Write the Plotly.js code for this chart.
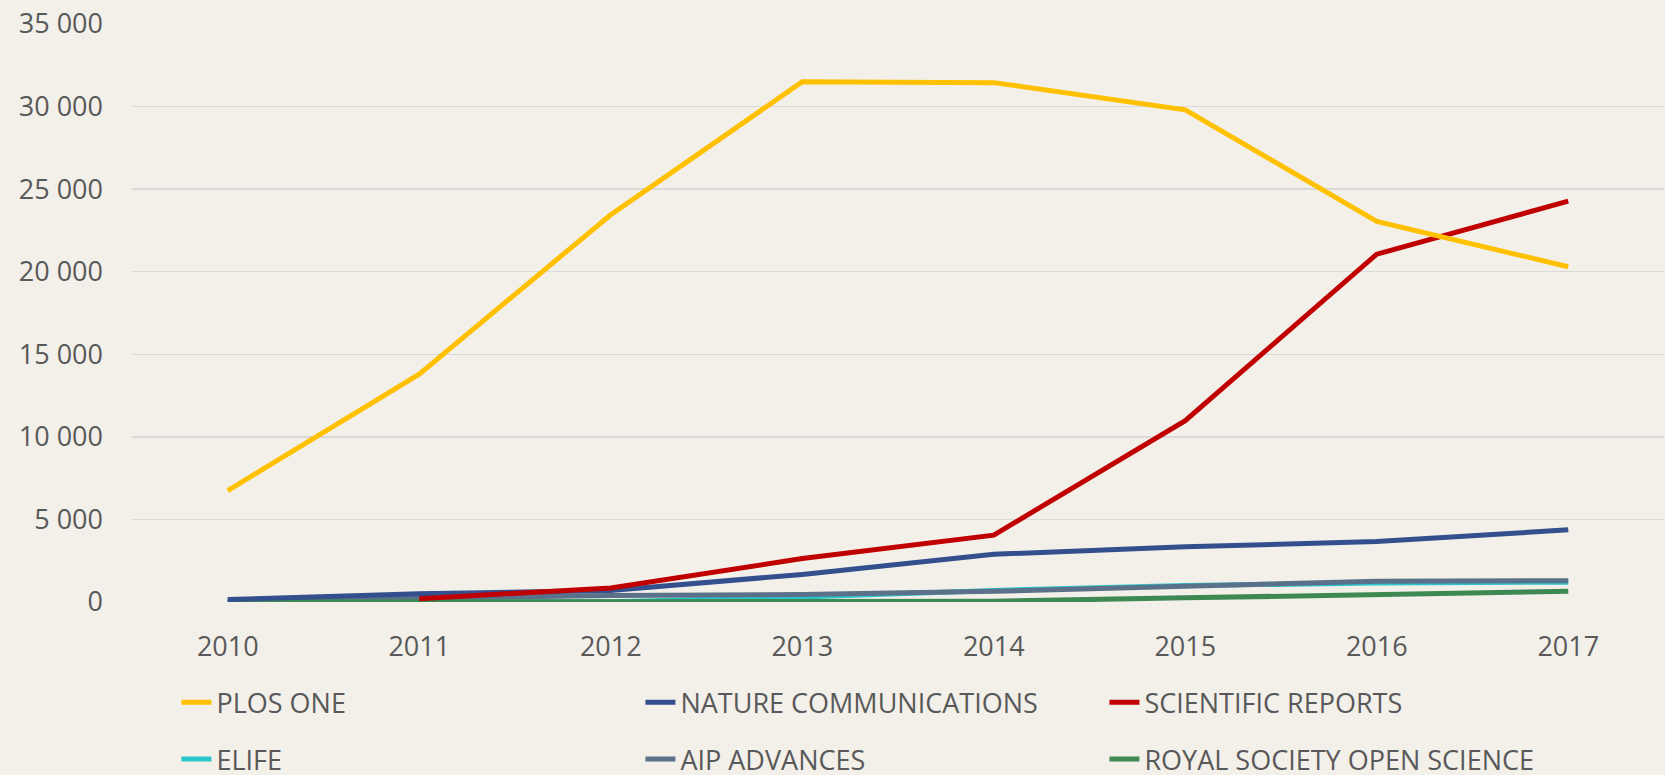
<!DOCTYPE html>
<html>
<head>
<meta charset="utf-8">
<script src="https://cdn.plot.ly/plotly-3.0.1.min.js"></script>
<style>html,body{margin:0;padding:0;background:#F3F0EA;}#chart{width:1665px;height:775px;}</style>
</head>
<body>
<div id="chart"></div>
<script>
const years = ['2010','2011','2012','2013','2014','2015','2016','2017'];
const plosOne = [6750, 13800, 23450, 31500, 31450, 29800, 23050, 20300];
const natureComm = [150, 500, 700, 1670, 2890, 3340, 3660, 4370];
const sciReports = [null, 200, 850, 2630, 4050, 10980, 21060, 24270];
const elife = [0, 0, 20, 300, 700, 1000, 1150, 1200];
const aipAdvances = [50, 250, 400, 450, 650, 950, 1250, 1290];
const royalSoc = [0, 0, 0, 0, 50, 250, 420, 650];

const seriesNames = ['PLOS ONE','NATURE COMMUNICATIONS','SCIENTIFIC REPORTS','ELIFE','AIP ADVANCES','ROYAL SOCIETY OPEN SCIENCE'];
const seriesData = [plosOne, natureComm, sciReports, elife, aipAdvances, royalSoc];
const seriesColors = ['#FFC000','#344F8D','#C00000','#2CC5CC','#5A7189','#3E8853'];
const legendIds = ['legend','legend','legend','legend2','legend2','legend2'];

const drawOrder = [3, 4, 5, 1, 2, 0];
const traces = seriesNames.map((n, i) => ({
  x: years, y: seriesData[i], name: n, type: 'scatter', mode: 'lines',
  line: {color: seriesColors[i], width: 5},
  legend: legendIds[i], connectgaps: false, legendrank: i + 1
}));
const ordered = drawOrder.map(i => traces[i]);

const font = {family: '"Open Sans", sans-serif', size: 27, color: '#595959'};
const legendBase = {
  orientation: 'h', xref: 'paper', x: 0.029, xanchor: 'left', yref: 'container', yanchor: 'top',
  entrywidth: 419, entrywidthmode: 'pixels', font: font, bgcolor: 'rgba(0,0,0,0)',
  traceorder: 'normal', itemwidth: 30
};
const layout = {
  width: 1665, height: 775,
  paper_bgcolor: '#F3F0EA', plot_bgcolor: '#F3F0EA',
  margin: {l: 132, r: 1, t: 24, b: 173},
  font: font,
  showlegend: true,
  xaxis: {
    type: 'category', range: [-0.5, 7.5], showgrid: false, zeroline: false,
    showline: false, ticks: '', tickfont: font, ticklabelstandoff: 26, automargin: false
  },
  yaxis: {
    range: [0, 35000], tickvals: [0,5000,10000,15000,20000,25000,30000,35000],
    ticktext: ['0','5 000','10 000','15 000','20 000','25 000','30 000','35 000'],
    showgrid: true, gridcolor: '#D9D9D9', gridwidth: 1.5, zeroline: false,
    showline: false, ticks: '', tickfont: font, ticklabelstandoff: 28, automargin: false
  },
  legend: Object.assign({}, legendBase, {y: 0.125}),
  legend2: Object.assign({}, legendBase, {y: 0.0516})
};
Plotly.newPlot('chart', ordered, layout, {displayModeBar: false, staticPlot: true});
</script>
</body>
</html>
